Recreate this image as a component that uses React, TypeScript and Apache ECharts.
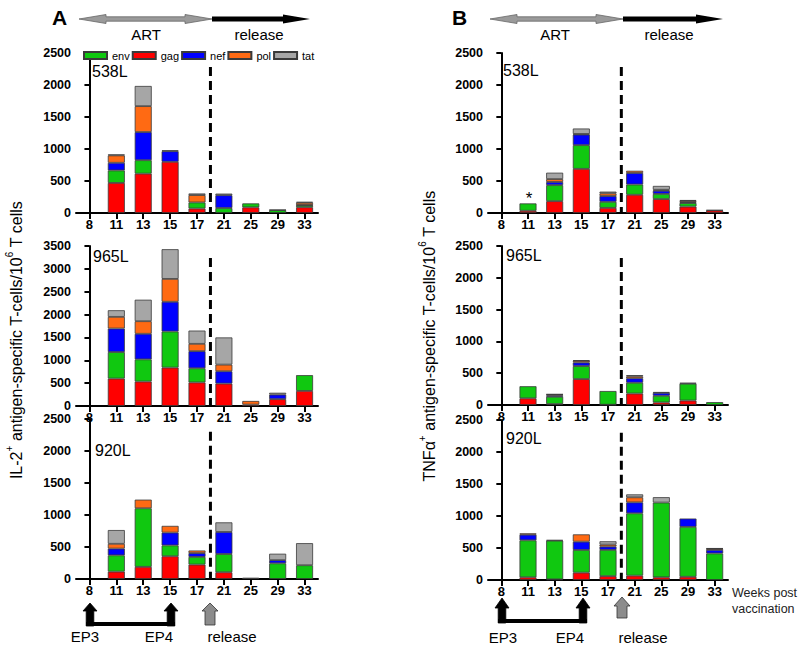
import React, { useEffect, useRef } from 'react';
import * as echarts from 'echarts';

const weeks = ['8', '11', '13', '15', '17', '21', '25', '29', '33'];

// IL-2+ , 538L
const il2_538L_gag = [0, 470, 615, 800, 70, 0, 88, 0, 90];
const il2_538L_env = [0, 195, 210, 0, 95, 78, 62, 45, 30];
const il2_538L_nef = [0, 120, 440, 165, 0, 200, 0, 0, 5];
const il2_538L_pol = [0, 115, 405, 0, 115, 0, 0, 0, 35];
const il2_538L_tat = [0, 15, 315, 15, 25, 25, 0, 5, 15];

// IL-2+ , 965L
const il2_965L_gag = [0, 600, 535, 840, 515, 490, 30, 150, 330];
const il2_965L_env = [0, 580, 485, 790, 310, 0, 0, 0, 345];
const il2_965L_nef = [0, 515, 560, 650, 375, 270, 0, 100, 0];
const il2_965L_pol = [0, 255, 275, 500, 160, 145, 80, 0, 0];
const il2_965L_tat = [0, 145, 470, 650, 290, 595, 0, 40, 0];

// IL-2+ , 920L
const il2_920L_gag = [0, 115, 190, 355, 225, 105, 0, 0, 0];
const il2_920L_env = [0, 255, 915, 170, 120, 285, 0, 245, 215];
const il2_920L_nef = [0, 105, 0, 200, 60, 345, 0, 50, 0];
const il2_920L_pol = [0, 75, 135, 105, 40, 0, 0, 0, 0];
const il2_920L_tat = [0, 215, 0, 0, 0, 150, 20, 100, 345];

// TNFa+ , 538L
const tnf_538L_gag = [0, 35, 185, 690, 80, 285, 218, 100, 40];
const tnf_538L_env = [0, 115, 250, 370, 95, 160, 80, 55, 0];
const tnf_538L_nef = [0, 0, 50, 165, 90, 180, 50, 15, 5];
const tnf_538L_pol = [0, 0, 45, 10, 42, 35, 15, 20, 0];
const tnf_538L_tat = [0, 0, 100, 85, 27, 0, 60, 12, 0];

// TNFa+ , 965L
const tnf_965L_gag = [0, 105, 15, 408, 5, 180, 40, 70, 0];
const tnf_965L_env = [0, 190, 115, 204, 215, 170, 105, 265, 45];
const tnf_965L_nef = [0, 0, 20, 56, 0, 70, 45, 15, 0];
const tnf_965L_pol = [0, 0, 15, 26, 0, 30, 0, 0, 0];
const tnf_965L_tat = [0, 0, 5, 10, 0, 20, 15, 0, 0];

// TNFa+ , 920L
const tnf_920L_gag = [0, 42, 10, 115, 60, 68, 42, 50, 0];
const tnf_920L_env = [0, 578, 605, 354, 410, 974, 1168, 780, 415];
const tnf_920L_nef = [0, 88, 10, 130, 52, 171, 0, 130, 55];
const tnf_920L_pol = [0, 21, 0, 114, 31, 79, 0, 0, 20];
const tnf_920L_tat = [0, 0, 0, 0, 52, 46, 84, 0, 5];

const legendOrder = ['env', 'gag', 'nef', 'pol', 'tat'];
const stackOrder = ['gag', 'env', 'nef', 'pol', 'tat'];
const colors: Record<string, string> = {
  env: '#10C810',
  gag: '#FF0000',
  nef: '#0000FF',
  pol: '#FF6A13',
  tat: '#A6A6A6',
};

const FONT = 'Liberation Sans, Arial, Helvetica, sans-serif';

const panels = [
  { grid: { left: 76, top: 53, width: 242, height: 160 }, max: 2500, dashTop: 2280,
    data: { gag: il2_538L_gag, env: il2_538L_env, nef: il2_538L_nef, pol: il2_538L_pol, tat: il2_538L_tat } },
  { grid: { left: 76, top: 246, width: 242, height: 160 }, max: 3500, dashTop: 3240,
    data: { gag: il2_965L_gag, env: il2_965L_env, nef: il2_965L_nef, pol: il2_965L_pol, tat: il2_965L_tat } },
  { grid: { left: 76, top: 419, width: 242, height: 160 }, max: 2500, dashTop: 2300,
    data: { gag: il2_920L_gag, env: il2_920L_env, nef: il2_920L_nef, pol: il2_920L_pol, tat: il2_920L_tat } },
  { grid: { left: 488, top: 53, width: 240, height: 160 }, max: 2500, dashTop: 2280,
    data: { gag: tnf_538L_gag, env: tnf_538L_env, nef: tnf_538L_nef, pol: tnf_538L_pol, tat: tnf_538L_tat } },
  { grid: { left: 488, top: 246, width: 240, height: 159 }, max: 2500, dashTop: 2310,
    data: { gag: tnf_965L_gag, env: tnf_965L_env, nef: tnf_965L_nef, pol: tnf_965L_pol, tat: tnf_965L_tat } },
  { grid: { left: 488, top: 420, width: 240, height: 160 }, max: 2500, dashTop: 2300,
    data: { gag: tnf_920L_gag, env: tnf_920L_env, nef: tnf_920L_nef, pol: tnf_920L_pol, tat: tnf_920L_tat } },
];

function txt(x: number, y: number, text: string, size: number, opts: any = {}) {
  return {
    type: 'text', x, y, silent: true,
    style: {
      text, fontSize: size, fontFamily: FONT, fill: opts.fill || '#000',
      fontWeight: opts.bold ? 'bold' : 'normal',
      textAlign: opts.align || 'left', align: opts.align || 'left',
      textVerticalAlign: 'middle', verticalAlign: 'middle',
    },
  };
}

function doubleArrow(x1: number, x2: number, y: number) {
  const h = 27, hw = 4.5, sw = 2.2;
  return {
    type: 'polygon', silent: true,
    shape: { points: [[x1, y], [x1 + h, y - hw], [x1 + h, y - sw], [x2 - h, y - sw], [x2 - h, y - hw], [x2, y], [x2 - h, y + hw], [x2 - h, y + sw], [x1 + h, y + sw], [x1 + h, y + hw]] },
    style: { fill: '#9a9a9a', stroke: '#666', lineWidth: 0.8 },
  };
}

function rightArrow(x1: number, x2: number, y: number) {
  const h = 27, hw = 4.5, sw = 2.5;
  return {
    type: 'polygon', silent: true,
    shape: { points: [[x1, y - sw], [x2 - h, y - sw], [x2 - h, y - hw], [x2, y], [x2 - h, y + hw], [x2 - h, y + sw], [x1, y + sw]] },
    style: { fill: '#000' },
  };
}

function upArrow(x: number, tip: number, base: number, bottom: number, fill: string, hw = 7, sw = 3.8) {
  return {
    type: 'polygon', silent: true,
    shape: { points: [[x, tip], [x + hw, base], [x + sw, base], [x + sw, bottom], [x - sw, bottom], [x - sw, base], [x - hw, base]] },
    style: { fill, stroke: fill === '#000' ? '#000' : '#333', lineWidth: 0.8 },
  };
}

function vTitle(x: number, y: number, first: string) {
  return {
    type: 'text', x, y, rotation: Math.PI / 2, silent: true,
    style: {
      text: `{a|${first}}{b|+}{a| antigen-specific T-cells/10}{b|6}{a| T cells}`,
      textAlign: 'center', align: 'center', textVerticalAlign: 'middle', verticalAlign: 'middle',
      rich: {
        a: { fontSize: 16, fontFamily: FONT, fill: '#000', verticalAlign: 'bottom', lineHeight: 20 },
        b: { fontSize: 10, fontFamily: FONT, fill: '#000', verticalAlign: 'top', lineHeight: 20 },
      },
    },
  };
}

function buildOption() {
  const grid: any[] = [];
  const xAxis: any[] = [];
  const yAxis: any[] = [];
  const series: any[] = [];
  panels.forEach((p, i) => {
    grid.push({ ...p.grid, containLabel: false });
    xAxis.push({
      type: 'category', gridIndex: i, data: weeks, boundaryGap: true,
      axisLine: { show: true, lineStyle: { color: '#000', width: 2 } },
      axisTick: { show: true, alignWithLabel: true, length: 6, lineStyle: { color: '#000', width: 2 } },
      axisLabel: { color: '#000', fontWeight: 'bold', fontSize: 13, fontFamily: FONT, margin: 5, lineHeight: 13 },
      splitLine: { show: false },
    });
    yAxis.push({
      type: 'value', gridIndex: i, min: 0, max: p.max, interval: 500,
      axisLine: { show: true, lineStyle: { color: '#000', width: 2 } },
      axisTick: { show: true, length: 5, lineStyle: { color: '#000', width: 2 } },
      axisLabel: { color: '#000', fontWeight: 'bold', fontSize: 12.5, fontFamily: FONT, margin: 5, lineHeight: 12,
        formatter: (v: number) => String(v) },
      splitLine: { show: false },
    });
    stackOrder.forEach((name) => {
      const vals = (p.data as any)[name] as number[];
      series.push({
        type: 'bar', name, xAxisIndex: i, yAxisIndex: i, stack: 'p' + i,
        barWidth: 17,
        data: vals.map((v) => (v === 0 ? null : v)),
        itemStyle: { color: colors[name], borderColor: '#3a3a3a', borderWidth: 0.8 },
        silent: true,
      });
    });
  });
  panels.forEach((p, i) => {
    xAxis.push({ type: 'value', gridIndex: i, min: -0.5, max: 8.5, show: false });
    series.push({
      type: 'line', name: 'release-line', xAxisIndex: 6 + i, yAxisIndex: i,
      data: [[4.5, p.dashTop], [4.5, 0]], symbol: 'none', silent: true, z: 5,
      lineStyle: { color: '#000', width: 3, type: [9, 5] },
    });
  });

  const graphic: any[] = [
    txt(52, 17, 'A', 21, { bold: true }),
    txt(452, 17, 'B', 21, { bold: true }),
    doubleArrow(79, 212, 19),
    rightArrow(212, 310, 19),
    txt(146, 34, 'ART', 15, { align: 'center' }),
    txt(259, 34, 'release', 15, { align: 'center' }),
    doubleArrow(490, 623, 19),
    rightArrow(623, 723, 19),
    txt(555, 34, 'ART', 15, { align: 'center' }),
    txt(669, 34, 'release', 15, { align: 'center' }),
    txt(92, 71, '538L', 16),
    txt(503, 70, '538L', 16),
    txt(93, 256, '965L', 16),
    txt(506, 255, '965L', 16),
    txt(95, 450, '920L', 16),
    txt(506, 438, '920L', 16),
    txt(529, 198, '*', 17, { align: 'center' }),
    vTitle(14, 340, 'IL-2'),
    vTitle(427, 336, 'TNFα'),
    // bottom annotations, panel A
    { type: 'rect', silent: true, shape: { x: 86, y: 622, width: 89, height: 4 }, style: { fill: '#000' } },
    upArrow(90, 603, 611, 626, '#000'),
    upArrow(171, 603, 611, 626, '#000'),
    upArrow(210, 603, 611, 625, '#8c8c8c', 8, 5),
    txt(85, 636, 'EP3', 15, { align: 'center' }),
    txt(159, 636, 'EP4', 15, { align: 'center' }),
    txt(232, 636, 'release', 15, { align: 'center' }),
    // panel B
    { type: 'rect', silent: true, shape: { x: 498, y: 619, width: 89, height: 4 }, style: { fill: '#000' } },
    upArrow(502, 598, 608, 623, '#000'),
    upArrow(583, 598, 608, 623, '#000'),
    upArrow(622, 597, 606, 618, '#8c8c8c', 8, 5),
    txt(503, 637, 'EP3', 15, { align: 'center' }),
    txt(570, 637, 'EP4', 15, { align: 'center' }),
    txt(643, 637, 'release', 15, { align: 'center' }),
    txt(732, 593, 'Weeks post', 12.5, { fill: '#222' }),
    txt(732, 609, 'vaccination', 12.5, { fill: '#222' }),
  ];

  return {
    animation: false,
    backgroundColor: '#fff',
    legend: {
      data: legendOrder, left: 83, top: 50, padding: 0,
      itemWidth: 23, itemHeight: 7, itemGap: 2, icon: 'rect',
      textStyle: { fontSize: 11, fontFamily: FONT, color: '#000', width: 20 },
      selectedMode: false,
    },
    grid, xAxis, yAxis, series, graphic,
  };
}

export default function App() {
  const ref = useRef<HTMLDivElement>(null);
  useEffect(() => {
    const chart = echarts.init(ref.current!, null, { renderer: 'svg' });
    chart.setOption(buildOption() as any);
    return () => chart.dispose();
  }, []);
  return <div ref={ref} style={{ position: 'fixed', left: 0, top: 0, width: 800, height: 647 }} />;
}
